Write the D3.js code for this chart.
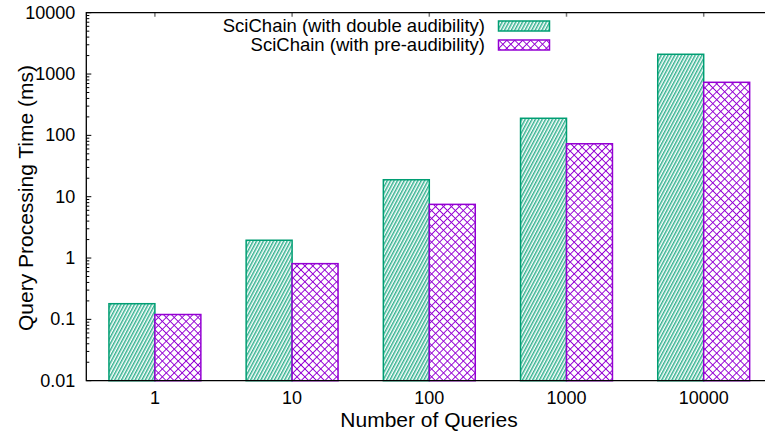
<!DOCTYPE html>
<html>
<head>
<meta charset="utf-8">
<script src="https://cdn.jsdelivr.net/npm/d3@7"></script>
<style>
  body { margin: 0; background: #fff; }
  text { font-family: "Liberation Sans", Arial, Helvetica, sans-serif; fill: #000; }
</style>
</head>
<body>
<script>
  // Données
  const categories = ["1", "10", "100", "1000", "10000"];
  const doubleAudit = [0.18, 1.95, 18.9, 190, 2100];
  const preAudit = [0.12, 0.81, 7.5, 73, 733];
  const seriesNames = ["SciChain (with double audibility)", "SciChain (with pre-audibility)"];
  const yTicks = [0.01, 0.1, 1, 10, 100, 1000, 10000];
  const yTickLabels = ["0.01", "0.1", "1", "10", "100", "1000", "10000"];

  const W = 765, H = 431;
  const plot = { left: 86.3, top: 12.7, bottom: 380.7, right: 772.3 };
  const green = "#009e73", purple = "#9400d3";
  const barW = 0.335;

  const svg = d3.select("body").append("svg")
    .attr("width", W)
    .attr("height", H);

  // motifs de remplissage
  const defs = svg.append("defs");
  const hatch = defs.append("pattern")
    .attr("id", "hatch")
    .attr("patternUnits", "userSpaceOnUse")
    .attr("width", 3) .attr("height", 10)
    .attr("patternTransform", "rotate(28)");
  hatch.append("rect").attr("width", 3).attr("height", 10).attr("fill", "#fff");
  hatch.append("line")
    .attr("x1", 0.8).attr("y1", 0).attr("x2", 0.8).attr("y2", 10)
    .attr("stroke", green).attr("stroke-width", 1.2);

  const cross = defs.append("pattern")
    .attr("id", "cross")
    .attr("patternUnits", "userSpaceOnUse")
    .attr("width", 5.6).attr("height", 5.6)
    .attr("patternTransform", "rotate(45)");
  cross.append("rect").attr("width", 5.6).attr("height", 5.6).attr("fill", "#fff");
  cross.append("path")
    .attr("d", "M0,0H5.6M0,0V5.6")
    .attr("stroke", purple).attr("stroke-width", 1.9).attr("fill", "none");

  /***** Échelles *****/
  const x = d3.scaleLinear().domain([-0.5, 4.5]).range([plot.left, plot.right]);
  const y = d3.scaleLog().domain([0.01, 10000]).range([plot.bottom, plot.top]);

  // petites graduations log
  const minor = [];
  yTicks.slice(0, -1).forEach(t => {
    for (let k = 2; k <= 9; k++) minor.push(t * k);
  });

  const g = svg.append("g");

  g.selectAll(".minor").data(minor).join("line")
    .attr("x1", plot.left).attr("x2", plot.left + 3)
    .attr("y1", d => y(d)).attr("y2", d => y(d))
    .attr("stroke", "#000").attr("stroke-width", 1);

  g.selectAll(".major").data(yTicks).join("line")
    .attr("x1", plot.left).attr("x2", plot.left + 5)
    .attr("y1", d => y(d)).attr("y2", d => y(d))
    .attr("stroke", "#000").attr("stroke-width", 1);

  // graduations en haut (miroir)
  g.selectAll(".xt").data(categories).join("line")
    .attr("x1", (d, i) => x(i)).attr("x2", (d, i) => x(i))
    .attr("y1", plot.top).attr("y2", plot.top + 4)
    .attr("stroke", "#777").attr("stroke-width", 1.5);

  /***** Barres *****/
  const bars = svg.append("g");
  bars.selectAll(".b1").data(doubleAudit).join("rect")
    .attr("x", (d, i) => x(i - barW))
    .attr("y", d => y(d))
    .attr("width", (d, i) => x(i) - x(i - barW))
    .attr("height", d => plot.bottom - y(d))
    .attr("fill", "url(#hatch)")
    .attr("stroke", green).attr("stroke-width", 1.5);

  bars.selectAll(".b2").data(preAudit).join("rect")
    .attr("x", (d, i) => x(i))
    .attr("y", d => y(d))
    .attr("width", (d, i) => x(i + barW) - x(i))
    .attr("height", d => plot.bottom - y(d))
    .attr("fill", "url(#cross)")
    .attr("stroke", purple).attr("stroke-width", 1.5);

  /***** Cadre *****/
  svg.append("path")
    .attr("d", `M${plot.right},${plot.top}H${plot.left}V${plot.bottom}H${plot.right}`)
    .attr("fill", "none").attr("stroke", "#000").attr("stroke-width", 1.3);

  /***** Étiquettes *****/
  svg.selectAll(".yl").data(yTicks).join("text")
    .attr("x", plot.left - 11)
    .attr("y", d => y(d) + 6)
    .attr("text-anchor", "end")
    .attr("font-size", 18)
    .text((d, i) => yTickLabels[i]);

  svg.selectAll(".xl").data(categories).join("text")
    .attr("x", (d, i) => x(i))
    .attr("y", 403.5)
    .attr("text-anchor", "middle")
    .attr("font-size", 18)
    .text(d => d);

  svg.append("text")
    .attr("x", 429).attr("y", 426.5)
    .attr("text-anchor", "middle")
    .attr("font-size", 21)
    .text("Number of Queries");

  svg.append("text")
    .attr("transform", "translate(33,198) rotate(-90)")
    .attr("text-anchor", "middle")
    .attr("font-size", 21)
    .text("Query Processing Time (ms)");

  /***** Légende *****/
  const legend = svg.append("g");
  const fills = ["url(#hatch)", "url(#cross)"];
  const strokes = [green, purple];
  seriesNames.forEach((name, i) => {
    const cy = 26 + i * 19;
    legend.append("text")
      .attr("x", 485).attr("y", cy + 6)
      .attr("text-anchor", "end")
      .attr("font-size", 18.5)
      .text(name);
    legend.append("rect")
      .attr("x", 498.5).attr("y", cy - 5)
      .attr("width", 51).attr("height", 10)
      .attr("fill", fills[i])
      .attr("stroke", strokes[i]).attr("stroke-width", 1.5);
  });
</script>
</body>
</html>
